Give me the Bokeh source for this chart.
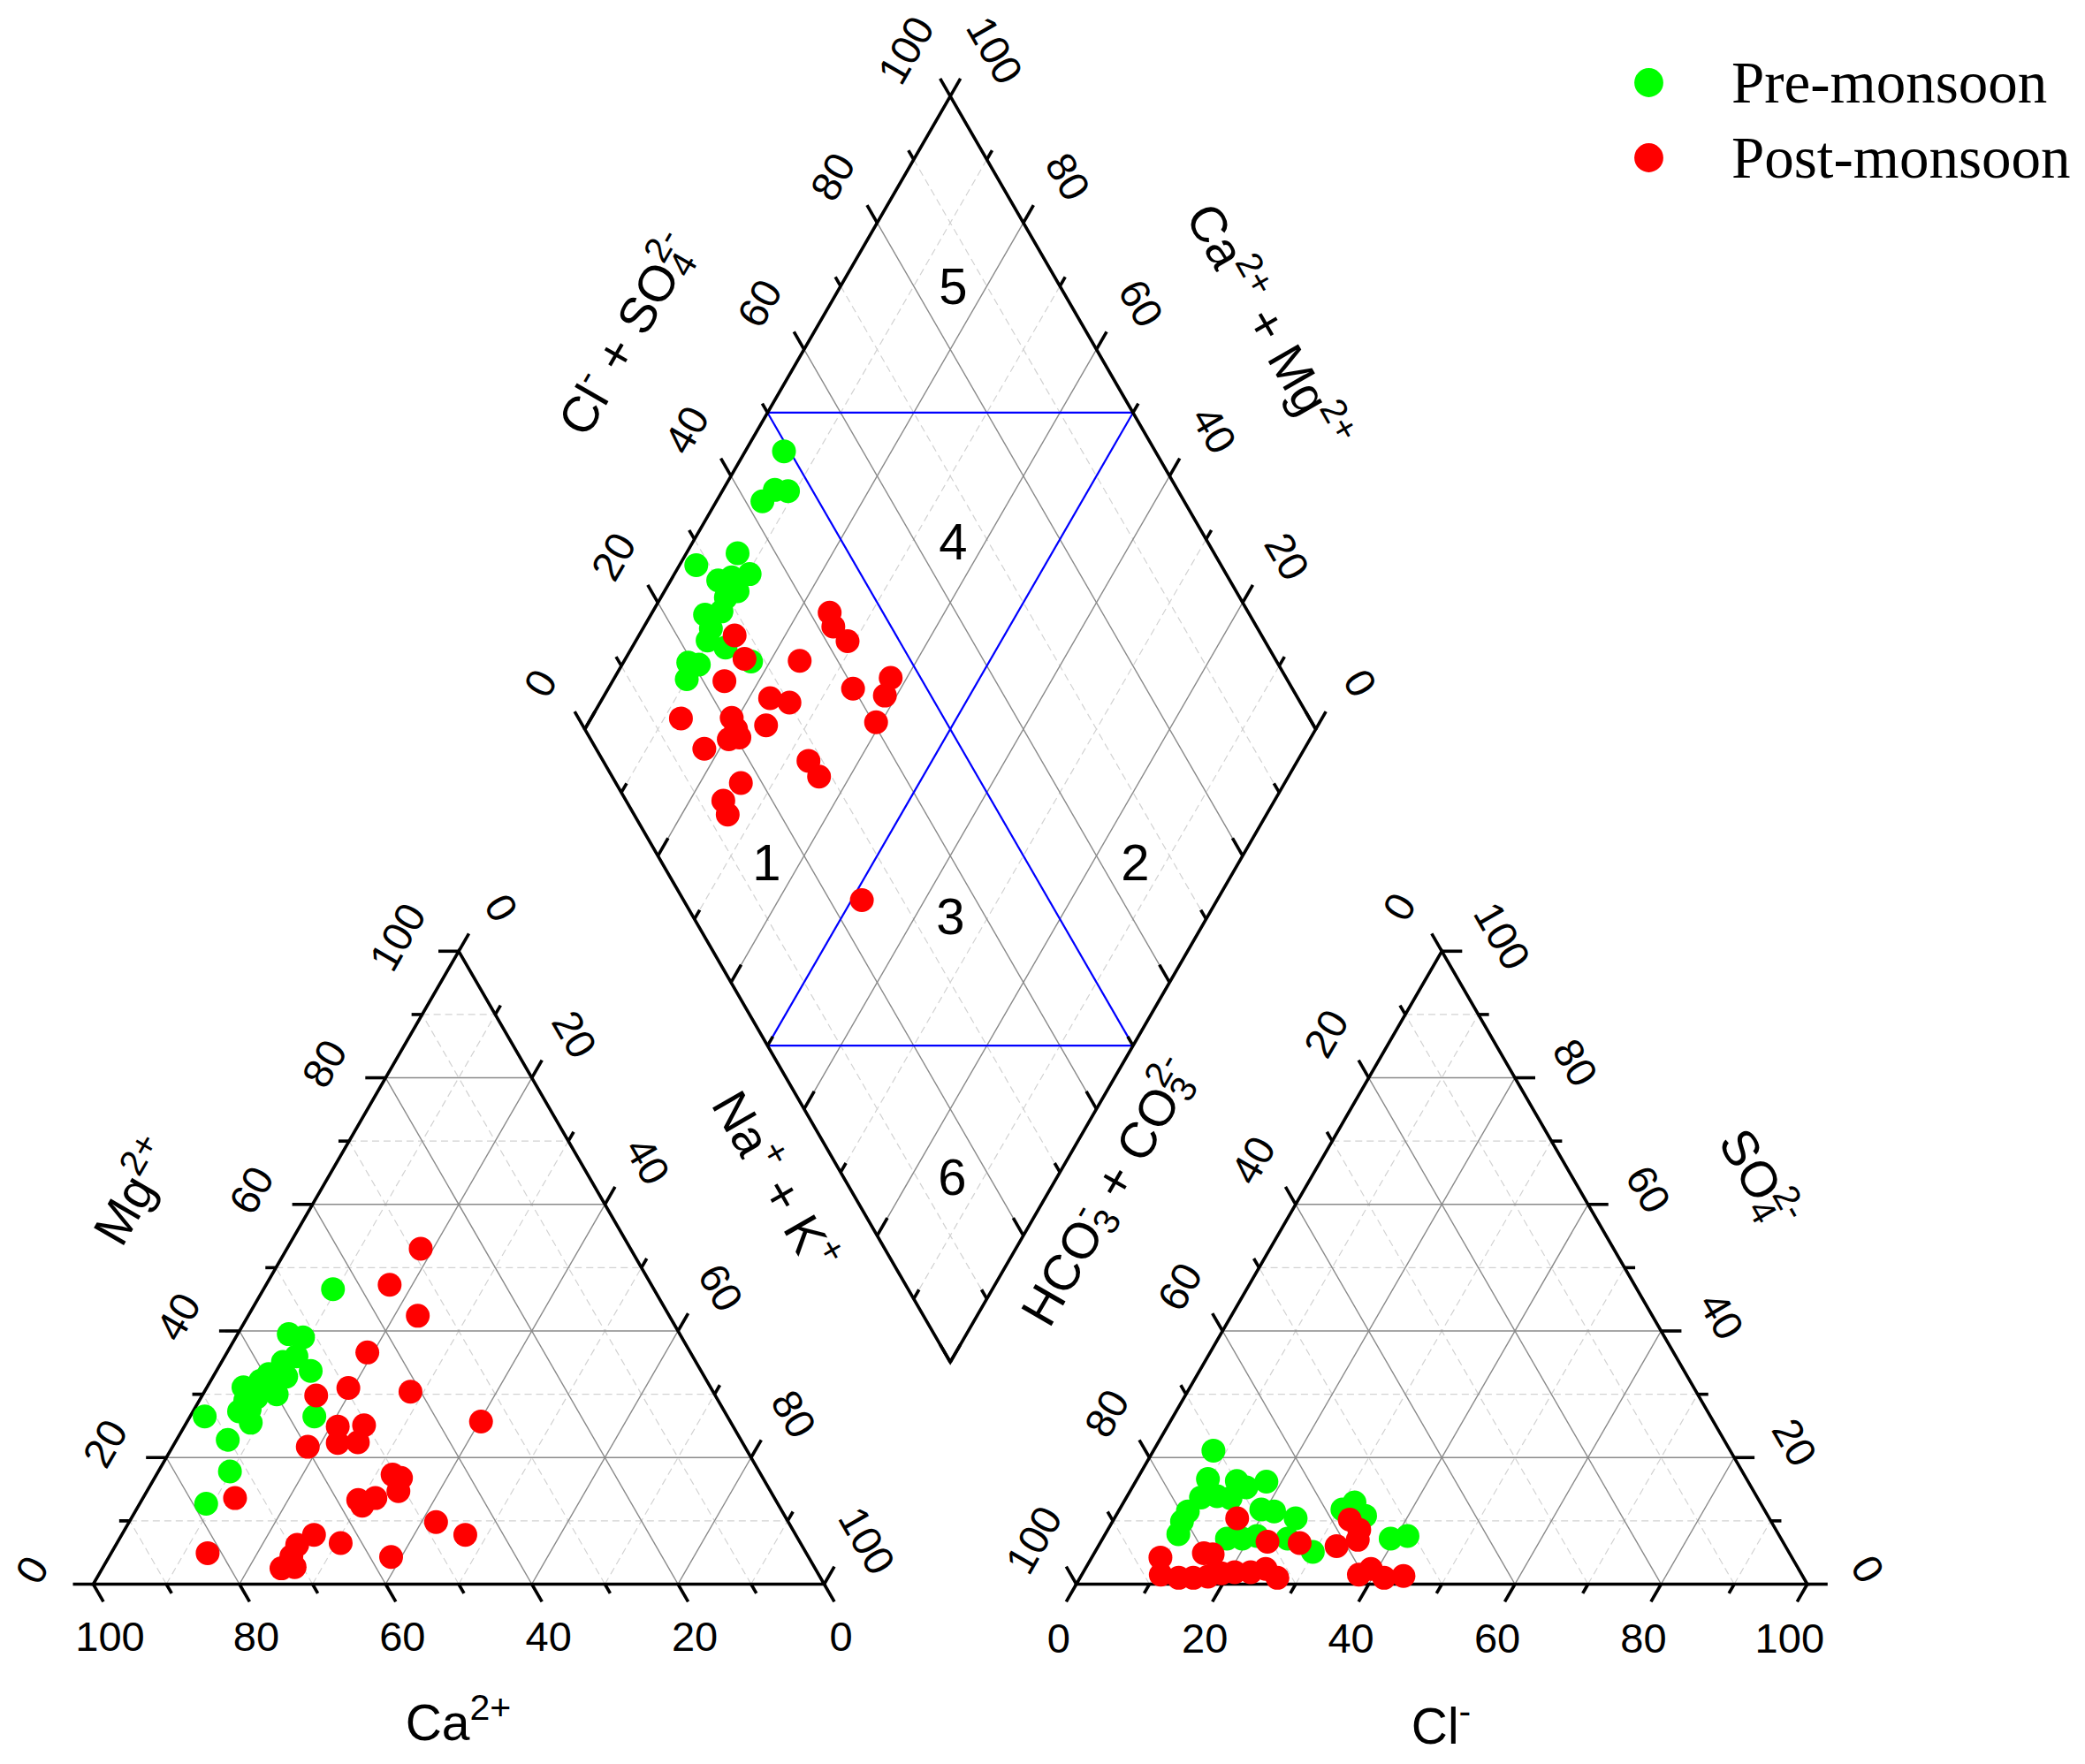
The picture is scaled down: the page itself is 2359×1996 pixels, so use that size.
import math
from bokeh.plotting import figure
from bokeh.models import Legend, LegendItem, Range1d
from bokeh.core.properties import value
from bokeh.embed import file_html
from bokeh.resources import INLINE

# ---------------- data (% meq/L) ----------------
# Cation triangle: Mg2+ and Na+ + K+ (Ca2+ = 100 - Mg - NaK)
pre_cat_mg = [46.6, 39.5, 39.0, 36.0, 35.1, 32.8, 33.7, 30.0, 32.1, 31.1, 29.5,
              27.6, 27.3, 25.5, 26.5, 26.5, 22.8, 17.8, 12.7, 33.2, 30.9, 29.0]
pre_cat_nak = [9.5, 7.0, 9.2, 9.8, 8.4, 10.0, 12.9, 10.1, 6.8, 5.0, 7.6,
               7.6, 6.3, 8.8, 17.0, 2.0, 7.0, 9.8, 9.1, 7.4, 7.7, 6.3]
post_cat_mg = [53.0, 47.3, 42.4, 36.6, 31.0, 29.8, 30.4, 25.7, 24.9, 25.1, 22.3,
               22.4, 21.7, 17.3, 16.8, 14.7, 13.3, 13.6, 12.4, 13.6, 9.8, 7.8,
               7.8, 6.5, 4.3, 4.9, 6.2, 4.4, 2.5, 2.7]
post_cat_nak = [18.3, 16.9, 23.2, 19.2, 19.4, 15.6, 28.2, 40.2, 21.0, 24.5, 22.3,
                25.0, 18.5, 32.3, 33.7, 34.4, 29.6, 31.8, 30.6, 12.6, 42.0, 47.0,
                26.3, 30.6, 38.6, 13.2, 24.8, 24.9, 24.5, 26.2]

# Anion triangle: SO4 2- and Cl- (HCO3- + CO3 2- = 100 - SO4 - Cl)
pre_an_so4 = [21.1, 16.6, 16.3, 15.3, 16.2, 13.7, 13.9, 13.6, 11.5, 9.9, 7.9, 11.8,
              11.5, 10.4, 7.2, 7.2, 7.6, 7.2, 5.1, 11.8, 12.9, 10.8, 7.2, 7.6]
pre_an_cl = [8.2, 9.7, 13.8, 15.6, 17.9, 10.2, 12.3, 14.3, 9.5, 9.5, 10.0, 19.4,
             21.3, 24.8, 17.0, 19.1, 20.9, 25.3, 29.8, 30.5, 31.6, 34.1, 39.4, 41.5]
post_an_so4 = [10.4, 6.7, 6.5, 10.2, 8.6, 7.0, 6.0, 4.9, 4.7, 4.2, 1.5, 1.0,
               1.0, 1.2, 1.7, 1.9, 1.9, 2.4, 1.0, 1.5, 2.4, 1.0, 1.3]
post_an_cl = [16.8, 22.8, 27.3, 32.3, 34.4, 35.0, 32.6, 15.0, 16.3, 9.4, 10.8, 13.5,
              15.5, 17.4, 19.0, 20.7, 22.9, 24.7, 27.0, 37.9, 39.1, 41.6, 44.1]

# Diamond: Na+ + K+ and Cl- + SO4 2-
pre_dia_nak = [5.3, 6.3, 7.1, 9.0, 2.3, 7.0, 10.3, 6.5, 8.1, 8.9, 9.4, 7.4, 9.3,
               9.8, 10.5, 10.0, 8.9, 17.4, 12.8, 10.0]
pre_dia_clso4 = [49.2, 42.3, 44.9, 46.6, 28.2, 34.8, 34.8, 30.0, 32.1, 29.7, 28.0,
                 25.5, 25.2, 23.8, 20.7, 17.9, 19.4, 28.1, 25.7, 31.8]
post_dia_nak = [13.1, 16.3, 15.3, 12.3, 19.2, 20.7, 21.8, 20.5, 17.9, 24.5, 22.9,
                25.9, 24.0, 24.3, 25.9, 29.0, 33.5, 37.8, 38.4, 39.3, 33.1, 35.8,
                25.6, 24.6, 26.3, 51.4]
post_dia_clso4 = [27.9, 27.4, 22.9, 14.0, 21.0, 20.7, 20.5, 18.9, 14.8, 25.1, 27.8,
                  30.1, 34.8, 42.7, 42.1, 42.9, 39.9, 45.9, 43.7, 40.4, 28.1, 28.3,
                  17.1, 13.3, 12.8, 24.4]

tick_values = [0, 20, 40, 60, 80, 100]
zone_labels = ["1", "2", "3", "4", "5", "6"]

# ---------------- geometry ----------------
H = math.sqrt(3) / 2
GAP = 34.5
RX = 100 + GAP
BX = 100 + GAP / 2
BY = GAP * H + 0.5
PX = 8.27
W, HGT = 2355, 1992
X0 = -105 / PX
Y1 = 1792 / PX


def cat_xy(nak, mg):
    return nak + mg / 2, mg * H


def an_xy(cl, so4):
    return RX + cl + so4 / 2, so4 * H


def dia_xy(nak, a):
    return BX + 0.5 * (a + nak - 100), BY + H * (100 - nak + a)


def px2d(px, py):
    return X0 + px / PX, Y1 - py / PX


p = figure(width=W, height=HGT, x_range=Range1d(X0, X0 + W / PX),
           y_range=Range1d(Y1 - HGT / PX, Y1), x_axis_type=None, y_axis_type=None,
           toolbar_location=None, output_backend="svg", min_border=0,
           outline_line_color=None, background_fill_color="white")
p.min_border_left = p.min_border_right = p.min_border_top = p.min_border_bottom = 0

# ---------------- grid ----------------
solid = [[], [], [], []]
dashed = [[], [], [], []]
for k in range(10, 100, 10):
    segs = [
        (cat_xy(0, k), cat_xy(100 - k, k)),
        (cat_xy(k, 0), cat_xy(k, 100 - k)),
        (cat_xy(100 - k, 0), cat_xy(0, 100 - k)),
        (an_xy(0, k), an_xy(100 - k, k)),
        (an_xy(k, 0), an_xy(k, 100 - k)),
        (an_xy(100 - k, 0), an_xy(0, 100 - k)),
        (dia_xy(k, 0), dia_xy(k, 100)),
        (dia_xy(0, k), dia_xy(100, k)),
    ]
    tgt = solid if k % 20 == 0 else dashed
    for (a, b) in segs:
        tgt[0].append(a[0]); tgt[1].append(a[1]); tgt[2].append(b[0]); tgt[3].append(b[1])

p.segment(dashed[0], dashed[1], dashed[2], dashed[3], line_color="#d2d2d2",
          line_width=1.2, line_dash="8 5")
p.segment(solid[0], solid[1], solid[2], solid[3], line_color="#8a8a8a", line_width=1.4)

# ---------------- blue zone lines ----------------
blue = [(dia_xy(0, 50), dia_xy(50, 100)), (dia_xy(50, 0), dia_xy(100, 50)),
        (dia_xy(0, 50), dia_xy(100, 50)), (dia_xy(50, 0), dia_xy(50, 100))]
p.segment([b[0][0] for b in blue], [b[0][1] for b in blue],
          [b[1][0] for b in blue], [b[1][1] for b in blue],
          line_color="#0000ff", line_width=2.2)

# ---------------- outlines ----------------
polys = [
    [cat_xy(0, 0), cat_xy(100, 0), cat_xy(0, 100)],
    [an_xy(0, 0), an_xy(100, 0), an_xy(0, 100)],
    [dia_xy(0, 0), dia_xy(100, 0), dia_xy(100, 100), dia_xy(0, 100)],
]
p.patches([[q[0] for q in poly] for poly in polys], [[q[1] for q in poly] for poly in polys],
          fill_color=None, line_color="black", line_width=3.6, line_join="miter")

# ---------------- ticks ----------------
LMAJ, LMIN = 23 / PX, 12 / PX
tk = [[], [], [], []]


def add_ticks(fn, d):
    for t in range(0, 101, 10):
        x, y = fn(t)
        L = LMAJ if t % 20 == 0 else LMIN
        tk[0].append(x); tk[1].append(y); tk[2].append(x + d[0] * L); tk[3].append(y + d[1] * L)


add_ticks(lambda t: cat_xy(t, 0), (0.5, -H))
add_ticks(lambda t: cat_xy(0, t), (-1, 0))
add_ticks(lambda t: cat_xy(t, 100 - t), (0.5, H))
add_ticks(lambda t: an_xy(t, 0), (-0.5, -H))
add_ticks(lambda t: an_xy(100 - t, t), (1, 0))
add_ticks(lambda t: an_xy(0, t), (-0.5, H))
add_ticks(lambda t: dia_xy(0, t), (-0.5, H))
add_ticks(lambda t: dia_xy(t, 100), (0.5, H))
add_ticks(lambda t: dia_xy(t, 0), (0.5, H))
add_ticks(lambda t: dia_xy(100, t), (-0.5, H))
p.segment(tk[0], tk[1], tk[2], tk[3], line_color="black", line_width=3.6)

# ---------------- tick labels ----------------
A60 = math.pi / 3
lab = {"x": [], "y": [], "t": [], "a": []}


def add_labels(fn, off, ang):
    for v in tick_values:
        x, y = fn(v)
        lab["x"].append(x + off[0] / PX)
        lab["y"].append(y + off[1] / PX)
        lab["t"].append(str(v))
        lab["a"].append(ang)


add_labels(lambda c: cat_xy(100 - c, 0), (19, -59), 0)
add_labels(lambda m: cat_xy(0, m), (-69, 16), A60)
add_labels(lambda n: cat_xy(n, 100 - n), (48, 49), -A60)
add_labels(lambda c: an_xy(c, 0), (-20, -61), 0)
add_labels(lambda s: an_xy(100 - s, s), (68, 17), -A60)
add_labels(lambda h: an_xy(0, 100 - h), (-48, 50), A60)
add_labels(lambda a: dia_xy(0, a), (-50, 52), A60)
add_labels(lambda c: dia_xy(100 - c, 100), (50, 52), -A60)
p.text(lab["x"], lab["y"], text=lab["t"], angle=lab["a"], text_align="center",
       text_baseline="middle", text_font=value("Liberation Sans"),
       text_font_size=value("47px"), text_color="black")

# ---------------- axis titles (rich text: base, superscript, subscript) ----------------
ADV = {'C': .722, 'a': .556, 'M': .833, 'g': .556, 'N': .722, 'K': .667, '+': .584,
       ' ': .278, 'H': .722, 'O': .778, 'S': .667, 'l': .222, '2': .556, '3': .556,
       '4': .556, '-': .333}
TSIZE = 57
SMALL = 0.72
SS = round(TSIZE * SMALL)
SUP_RAISE = 0.40
SUB_DROP = 0.17
MID = 0.35  # middle of em box above the alphabetic baseline


def wid(s, size):
    return sum(ADV.get(ch, .556) for ch in s) * size


big = {"x": [], "y": [], "t": [], "a": []}
small = {"x": [], "y": [], "t": [], "a": []}


def rich(parts, cpx, cpy, ang):
    # parts: ("n", text), ("sup", text), ("sub", text), ("subsup", sub, sup)
    total = 0
    for part in parts:
        if part[0] == "n":
            total += wid(part[1], TSIZE)
        elif part[0] == "subsup":
            total += max(wid(part[1], SS), wid(part[2], SS))
        else:
            total += wid(part[1], SS)
    cx, cy = px2d(cpx, cpy)
    d = (math.cos(ang), math.sin(ang))
    nrm = (-math.sin(ang), math.cos(ang))
    s = -total / 2
    base = -0.42 * TSIZE  # alphabetic baseline relative to visual centre

    def put(store, txt, along, up):
        store["x"].append(cx + (d[0] * along + nrm[0] * up) / PX)
        store["y"].append(cy + (d[1] * along + nrm[1] * up) / PX)
        store["t"].append(txt)
        store["a"].append(ang)

    for part in parts:
        if part[0] == "n":
            txt = part[1]
            lead = len(txt) - len(txt.lstrip(" "))
            s += lead * ADV[' '] * TSIZE
            txt = txt.lstrip(" ")
            put(big, txt, s, base + MID * TSIZE)
            s += wid(txt, TSIZE)
        elif part[0] == "sup":
            put(small, part[1], s, base + SUP_RAISE * TSIZE + MID * SS)
            s += wid(part[1], SS)
        elif part[0] == "sub":
            put(small, part[1], s, base - SUB_DROP * TSIZE + MID * SS)
            s += wid(part[1], SS)
        else:
            put(small, part[1], s, base - SUB_DROP * TSIZE + MID * SS)
            put(small, part[2], s, base + SUP_RAISE * TSIZE + MID * SS)
            s += max(wid(part[1], SS), wid(part[2], SS))


rich([("n", "Mg"), ("sup", "2+")], 148, 1346, A60)
rich([("n", "Ca"), ("sup", "2+")], 518, 1945, 0)
rich([("n", "Na"), ("sup", "+"), ("n", " + K"), ("sup", "+")], 880, 1334, -A60)
rich([("n", "HCO"), ("subsup", "3", "-"), ("n", " + CO"), ("subsup", "3", "2-")], 1250, 1346, A60)
rich([("n", "Cl"), ("sup", "-"), ("n", " + SO"), ("subsup", "4", "2-")], 705, 376, A60)
rich([("n", "Ca"), ("sup", "2+"), ("n", " + Mg"), ("sup", "2+")], 1438, 367, -A60)
rich([("n", "SO"), ("subsup", "4", "2-")], 1993, 1331, -A60)
rich([("n", "Cl"), ("sup", "-")], 1630, 1949, 0)

p.text(big["x"], big["y"], text=big["t"], angle=big["a"], text_align="left",
       text_baseline="middle", text_font=value("Liberation Sans"),
       text_font_size=value(f"{TSIZE}px"), text_color="black")
p.text(small["x"], small["y"], text=small["t"], angle=small["a"], text_align="left",
       text_baseline="middle", text_font=value("Liberation Sans"),
       text_font_size=value(f"{SS}px"), text_color="black")

# ---------------- zone numbers ----------------
zone_px = [(867, 975), (1284, 975), (1075, 1036), (1078, 612), (1078, 323), (1077, 1331)]
zx, zy = zip(*[px2d(a, b) for a, b in zone_px])
p.text(list(zx), list(zy), text=zone_labels, text_align="center", text_baseline="middle",
       text_font=value("Liberation Sans"), text_font_size=value("58px"), text_color="black")

# ---------------- points ----------------
GREEN, RED, SIZE = "#00ff00", "#ff0000", 27


def pts(fn, a, b):
    xy = [fn(u, v) for u, v in zip(a, b)]
    return [q[0] for q in xy], [q[1] for q in xy]


x, y = pts(cat_xy, pre_cat_nak, pre_cat_mg)
r_pre = p.scatter(x, y, size=SIZE, fill_color=GREEN, line_color=None)
x, y = pts(an_xy, pre_an_cl, pre_an_so4)
p.scatter(x, y, size=SIZE, fill_color=GREEN, line_color=None)
x, y = pts(dia_xy, pre_dia_nak, pre_dia_clso4)
p.scatter(x, y, size=SIZE, fill_color=GREEN, line_color=None)

x, y = pts(cat_xy, post_cat_nak, post_cat_mg)
r_post = p.scatter(x, y, size=SIZE, fill_color=RED, line_color=None)
x, y = pts(an_xy, post_an_cl, post_an_so4)
p.scatter(x, y, size=SIZE, fill_color=RED, line_color=None)
x, y = pts(dia_xy, post_dia_nak, post_dia_clso4)
p.scatter(x, y, size=SIZE, fill_color=RED, line_color=None)

# ---------------- legend ----------------
legend = Legend(items=[LegendItem(label="Pre-monsoon", renderers=[r_pre]),
                       LegendItem(label="Post-monsoon", renderers=[r_post])],
                location=(1824, HGT - 219), glyph_width=82, glyph_height=82,
                label_standoff=53, spacing=3, padding=0, margin=0,
                border_line_color=None, background_fill_alpha=0,
                label_text_font="Liberation Serif", label_text_font_size="67px",
                label_text_color="black")
p.add_layout(legend)

open("out.html", "w").write(file_html(p, INLINE))
